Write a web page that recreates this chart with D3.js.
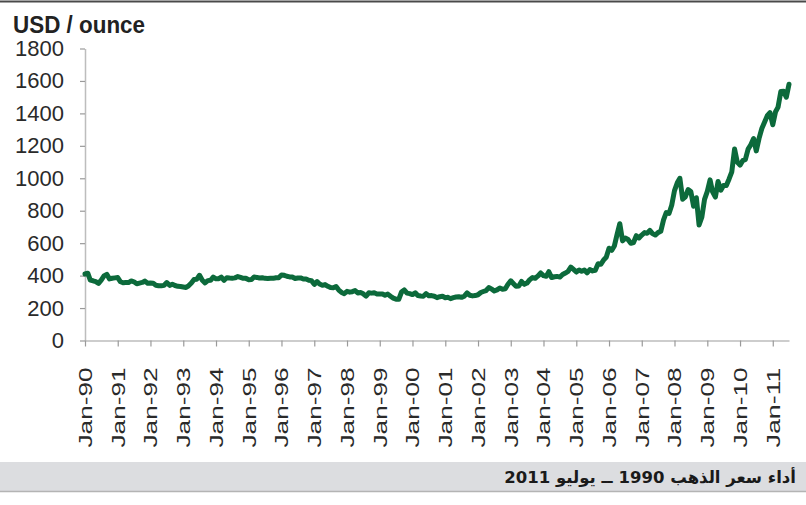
<!DOCTYPE html>
<html>
<head>
<meta charset="utf-8">
<script src="https://cdn.jsdelivr.net/npm/d3@7"></script>
<style>
  html, body { margin: 0; padding: 0; background: #fff; }
  svg { display: block; }
</style>
</head>
<body>
<svg id="chart" width="806" height="505"></svg>
<script>
// ---------- data (monthly) ----------
const startYear = 1990;
const prices1990 = [410, 415, 372, 368, 363, 352, 372, 398, 408, 380, 384, 386];
const prices1991 = [388, 362, 356, 357, 357, 367, 362, 350, 354, 358, 366, 353];
const prices1992 = [354, 353, 341, 338, 337, 340, 357, 340, 347, 339, 334, 333];
const prices1993 = [330, 327, 337, 354, 376, 378, 402, 372, 355, 369, 371, 391];
const prices1994 = [380, 381, 391, 371, 387, 385, 384, 386, 394, 389, 383, 383];
const prices1995 = [375, 376, 391, 389, 385, 387, 383, 382, 384, 383, 387, 387];
const prices1996 = [404, 402, 396, 392, 391, 382, 385, 386, 379, 379, 371, 369];
const prices1997 = [346, 363, 348, 340, 345, 334, 326, 325, 333, 311, 296, 289];
const prices1998 = [303, 298, 301, 308, 293, 296, 288, 273, 294, 292, 294, 287];
const prices1999 = [287, 287, 279, 286, 273, 261, 255, 254, 299, 312, 292, 289];
const prices2000 = [283, 294, 277, 274, 273, 289, 276, 277, 273, 264, 270, 273];
const prices2001 = [264, 266, 258, 264, 268, 270, 266, 273, 293, 279, 275, 277];
const prices2002 = [282, 296, 302, 308, 326, 318, 305, 312, 324, 316, 319, 347];
const prices2003 = [368, 350, 334, 336, 364, 346, 354, 375, 388, 384, 398, 416];
const prices2004 = [400, 396, 424, 388, 393, 395, 391, 407, 416, 426, 453, 438];
const prices2005 = [422, 435, 427, 435, 417, 437, 429, 433, 473, 470, 496, 513];
const prices2006 = [569, 556, 582, 654, 720, 614, 632, 623, 599, 604, 646, 632];
const prices2007 = [650, 665, 661, 679, 659, 650, 665, 673, 743, 789, 783, 834];
const prices2008 = [924, 972, 1000, 871, 886, 930, 918, 828, 880, 712, 760, 870];
const prices2009 = [919, 990, 916, 884, 980, 927, 955, 955, 996, 1040, 1180, 1100];
const prices2010 = [1081, 1110, 1115, 1180, 1207, 1245, 1169, 1246, 1307, 1346, 1386, 1405];
const prices2011 = [1330, 1410, 1439, 1535, 1536, 1500, 1580];

const yTicks = [0, 200, 400, 600, 800, 1000, 1200, 1400, 1600, 1800];
const xTickYears = d3.range(1990, 2012);
const titleText = "USD / ounce";
const captionText = "أداء سعر الذهب 1990 ــ يوليو 2011";

const allPrices = [].concat(prices1990, prices1991, prices1992, prices1993, prices1994,
  prices1995, prices1996, prices1997, prices1998, prices1999, prices2000, prices2001,
  prices2002, prices2003, prices2004, prices2005, prices2006, prices2007, prices2008,
  prices2009, prices2010, prices2011);
const series = allPrices.map((v, i) => ({ date: new Date(startYear, i, 1), value: v }));

// ---------- layout ----------
const svg = d3.select("#chart");
const x = d3.scaleTime()
  .domain([new Date(1990, 0, 1), new Date(2011, 6, 1)])
  .range([85, 789]);
const y = d3.scaleLinear().domain([0, 1800]).range([340.5, 48.5]);

// top border
svg.append("line").attr("x1", 0).attr("x2", 806).attr("y1", 1.5).attr("y2", 1.5)
  .attr("stroke", "#4a4a4a").attr("stroke-width", 2);

// title
svg.append("text").attr("x", 13).attr("y", 33)
  .attr("font-family", "Liberation Sans, Arial, sans-serif")
  .attr("font-weight", "bold").attr("font-size", 24)
  .attr("textLength", 132).attr("lengthAdjust", "spacingAndGlyphs")
  .attr("fill", "#222").text(titleText);

// y axis
const yAxis = svg.append("g").attr("transform", "translate(85,0)")
  .call(d3.axisLeft(y).tickValues(yTicks).tickFormat(d3.format("d"))
    .tickSize(5).tickSizeOuter(0).tickPadding(16));
yAxis.select(".domain").attr("stroke", "#bdbdbd").attr("stroke-width", 1.5);
yAxis.selectAll(".tick line").attr("stroke", "#9a9a9a").attr("stroke-width", 1.2);
yAxis.selectAll(".tick text")
  .attr("font-family", "Liberation Sans, Arial, sans-serif")
  .attr("font-size", 22).attr("fill", "#2a2a2a");

// x axis
const xAxis = svg.append("g").attr("transform", "translate(0,340.5)")
  .call(d3.axisBottom(x).tickValues(xTickYears.map(yr => new Date(yr, 0, 1)))
    .tickFormat(d3.timeFormat("Jan-%y")).tickSize(6).tickSizeOuter(0));
xAxis.select(".domain").attr("stroke", "#bdbdbd").attr("stroke-width", 1.5);
xAxis.selectAll(".tick line").attr("stroke", "#9a9a9a").attr("stroke-width", 1.2);
xAxis.selectAll(".tick text")
  .attr("font-family", "Liberation Sans, Arial, sans-serif")
  .attr("font-size", 18).attr("fill", "#2a2a2a")
  .attr("transform", "rotate(-90)")
  .attr("text-anchor", "end")
  .attr("x", -27).attr("y", 0).attr("dy", "0.36em")
  .attr("textLength", 80).attr("lengthAdjust", "spacingAndGlyphs");

// line
const line = d3.line().x(d => x(d.date)).y(d => y(d.value));
svg.append("path").datum(series)
  .attr("fill", "none").attr("stroke", "#0c6a3b").attr("stroke-width", 5)
  .attr("stroke-linejoin", "round").attr("stroke-linecap", "round")
  .attr("d", line);

// caption band
svg.append("rect").attr("x", 0).attr("y", 462).attr("width", 806).attr("height", 29)
  .attr("fill", "#dcdde0");
svg.append("line").attr("x1", 0).attr("x2", 806).attr("y1", 491.5).attr("y2", 491.5)
  .attr("stroke", "#b4b4b4").attr("stroke-width", 1.5);
svg.append("text").attr("x", 796).attr("y", 483)
  .attr("direction", "rtl").attr("text-anchor", "start")
  .attr("font-family", "DejaVu Sans, Noto Sans, sans-serif")
  .attr("font-weight", "bold").attr("font-size", 16.5)
  .attr("fill", "#1a1a1a").text(captionText);
</script>
</body>
</html>
